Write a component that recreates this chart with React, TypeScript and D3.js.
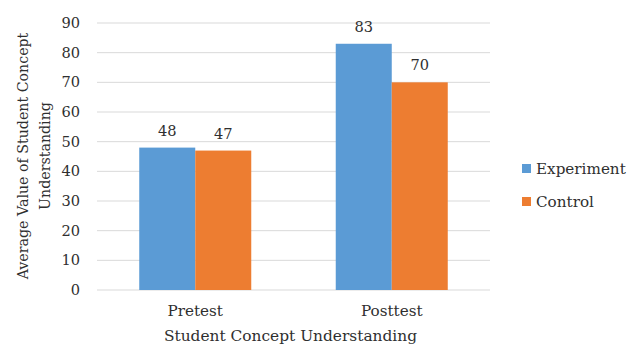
import React from "react";
import * as d3 from "d3";

const categories = ["Pretest", "Posttest"];
const seriesNames = ["Experiment", "Control"];
const experimentValues = [48, 83];
const controlValues = [47, 70];
const yTicks = [0, 10, 20, 30, 40, 50, 60, 70, 80, 90];
const colors = ["#5b9bd5", "#ed7d31"];

const W = 640, H = 344;
const FONT = "DejaVu Serif";

export default function App() {
  const x0 = 97, x1 = 490, yTop = 23, yBot = 290;
  const y = d3.scaleLinear().domain([0, 90]).range([yBot, yTop]);
  const xBand = d3.scaleBand().domain(categories).range([x0, x1]).paddingInner(0).paddingOuter(0);
  const bw = xBand.bandwidth();
  const groupW = bw * 0.57;
  const xSub = d3.scaleBand().domain(seriesNames).range([0, groupW]);
  const series = [experimentValues, controlValues];
  const textColor = "#2f2f2f";
  const fs = 14.6;

  return (
    <svg width={W} height={H} style={{ position: "absolute", left: 0, top: 0, background: "#fff", fontFamily: FONT }}>
      {yTicks.map((t) => (
        <g key={t}>
          <line x1={x0} x2={x1} y1={y(t)} y2={y(t)} stroke="#d9d9d9" strokeWidth={1} />
          <text x={80} y={y(t)} dy="0.35em" textAnchor="end" fontSize={fs} fill={textColor}>{t}</text>
        </g>
      ))}
      {categories.map((c, i) => {
        const gx = xBand(c)! + (bw - groupW) / 2;
        return (
          <g key={c}>
            {series.map((vals, s) => {
              const bx = gx + xSub(seriesNames[s])!;
              return (
                <g key={s}>
                  <rect x={bx} y={y(vals[i])} width={xSub.bandwidth()} height={yBot - y(vals[i])} fill={colors[s]} />
                  <text x={bx + xSub.bandwidth() / 2} y={y(vals[i]) - 12} textAnchor="middle" fontSize={fs} fill={textColor}>{vals[i]}</text>
                </g>
              );
            })}
            <text x={xBand(c)! + bw / 2} y={316} textAnchor="middle" fontSize={15.2} fill={textColor}>{c}</text>
          </g>
        );
      })}
      <text x={(x0 + x1) / 2 - 3} y={341} textAnchor="middle" fontSize={15.4} fill={textColor}>Student Concept Understanding</text>
      <g transform={`translate(23, 156) rotate(-90)`}>
        <text x={0} y={0} dy="0.35em" textAnchor="middle" fontSize={14.2} fill={textColor}>Average Value of Student Concept</text>
        <text x={0} y={22} dy="0.35em" textAnchor="middle" fontSize={14.2} fill={textColor}>Understanding</text>
      </g>
      {seriesNames.map((n, s) => (
        <g key={n} transform={`translate(522, ${164 + s * 33})`}>
          <rect x={0} y={0} width={9} height={9} fill={colors[s]} />
          <text x={14} y={10} fontSize={15.2} fill={textColor}>{n}</text>
        </g>
      ))}
    </svg>
  );
}
